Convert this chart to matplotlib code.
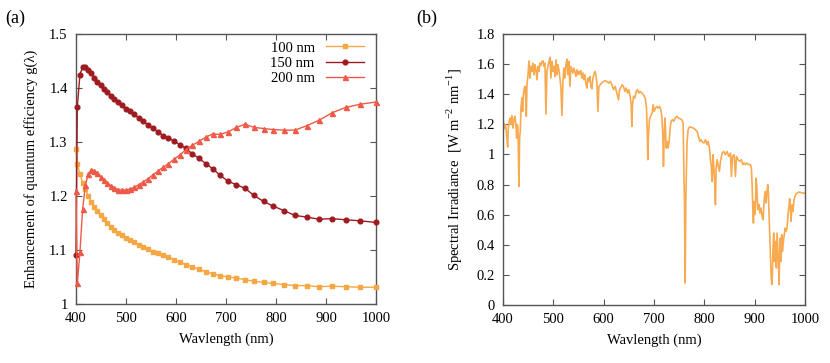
import matplotlib
matplotlib.use("Agg")
import matplotlib.pyplot as plt
from matplotlib.ticker import FuncFormatter, MultipleLocator

plt.rcParams['font.family'] = ['Liberation Serif', 'DejaVu Serif']
plt.rcParams['mathtext.fontset'] = 'custom'
plt.rcParams['mathtext.rm'] = 'Liberation Serif'

# ---------------- data: panel (a) ----------------
wavelength_sim = [400.0, 402.6, 407.9, 413.3, 418.9, 424.7, 430.6, 436.6, 442.9, 449.3,
                  455.9, 462.7, 469.7, 476.9, 484.4, 492.1, 500.0, 508.2, 516.7, 525.4,
                  534.5, 543.9, 553.6, 563.6, 574.1, 584.9, 596.2, 607.8, 620.0, 632.7,
                  645.8, 659.6, 673.9, 688.9, 704.5, 720.9, 738.1, 756.1, 775.0, 794.9,
                  815.8, 837.8, 861.1, 885.7, 911.8, 939.4, 968.8, 1000.0]

g_100nm = [1.287, 1.259, 1.241, 1.225, 1.213, 1.200, 1.189, 1.180, 1.172, 1.164,
           1.157, 1.150, 1.143, 1.137, 1.132, 1.127, 1.123, 1.119, 1.114, 1.109,
           1.105, 1.101, 1.097, 1.094, 1.090, 1.087, 1.082, 1.077, 1.073, 1.069,
           1.064, 1.060, 1.056, 1.052, 1.050, 1.048, 1.045, 1.042, 1.040, 1.038,
           1.036, 1.034, 1.034, 1.032, 1.033, 1.032, 1.031, 1.031]

g_150nm = [1.090, 1.365, 1.425, 1.439, 1.439, 1.434, 1.428, 1.419, 1.411, 1.405,
           1.399, 1.392, 1.386, 1.380, 1.374, 1.368, 1.362, 1.357, 1.351, 1.344,
           1.338, 1.332, 1.326, 1.319, 1.312, 1.307, 1.302, 1.295, 1.288, 1.278,
           1.270, 1.260, 1.250, 1.238, 1.227, 1.221, 1.214, 1.201, 1.190, 1.181,
           1.173, 1.164, 1.161, 1.157, 1.158, 1.156, 1.154, 1.151]

g_200nm = [1.210, 1.038, 1.096, 1.176, 1.221, 1.241, 1.249, 1.247, 1.242, 1.236,
           1.230, 1.224, 1.219, 1.215, 1.212, 1.211, 1.211, 1.213, 1.216, 1.221,
           1.226, 1.232, 1.239, 1.246, 1.253, 1.260, 1.268, 1.276, 1.286, 1.294,
           1.301, 1.309, 1.315, 1.314, 1.319, 1.327, 1.333, 1.327, 1.325, 1.323,
           1.322, 1.322, 1.330, 1.340, 1.354, 1.364, 1.370, 1.374]

series_labels = ["100 nm", "150 nm", "200 nm"]

# ---------------- data: panel (b) ----------------
spec_wl = [400.0, 401.3, 402.6, 405.2, 407.2, 409.2, 410.5, 412.5, 413.8, 415.8,
           417.8, 419.8, 421.8, 423.8, 425.7, 427.1, 428.4, 429.7, 431.7, 433.0,
           434.3, 435.7, 437.7, 439.0, 440.3, 442.3, 444.3, 446.3, 447.6, 449.6,
           451.6, 453.5, 455.5, 457.5, 459.5, 461.5, 463.5, 465.5, 467.5, 469.4,
           471.4, 473.4, 475.4, 477.4, 479.4, 481.3, 483.3, 485.3, 487.3, 489.3,
           491.3, 493.3, 495.2, 497.2, 499.2, 501.2, 503.2, 505.2, 507.2, 509.1,
           511.1, 513.1, 515.1, 517.1, 519.1, 521.0, 523.0, 525.0, 527.0, 529.0,
           531.0, 533.0, 534.9, 536.9, 538.9, 540.9, 542.9, 544.9, 546.8, 548.8,
           550.8, 552.8, 554.8, 556.8, 558.8, 560.7, 562.7, 564.7, 566.7, 568.7,
           570.7, 572.7, 574.6, 576.6, 578.6, 580.6, 582.6, 584.6, 586.6, 588.5,
           590.5, 593.1, 595.8, 599.7, 603.0, 606.3, 609.6, 613.0, 616.3, 619.6,
           622.9, 626.2, 629.5, 631.5, 634.1, 636.8, 639.4, 642.1, 644.7, 647.4,
           650.0, 652.7, 654.6, 656.0, 657.3, 659.3, 661.9, 664.6, 667.2, 669.9,
           672.5, 675.8, 679.1, 682.4, 685.1, 686.4, 687.7, 689.0, 691.0, 693.7,
           696.3, 698.3, 700.3, 702.9, 705.6, 708.2, 710.9, 713.5, 715.5, 717.5,
           718.8, 720.1, 721.5, 722.8, 724.1, 726.1, 728.1, 730.1, 732.1, 734.0,
           736.7, 739.3, 742.0, 745.3, 748.6, 751.9, 755.2, 757.9, 759.2, 760.5,
           761.2, 761.8, 762.5, 763.2, 764.5, 765.8, 767.8, 770.4, 774.4, 778.4,
           782.3, 785.7, 788.3, 791.0, 793.6, 796.2, 799.5, 802.2, 805.5, 807.5,
           810.2, 812.1, 813.5, 815.5, 817.4, 819.4, 820.7, 822.1, 823.4, 825.4,
           827.4, 830.0, 832.0, 835.3, 838.6, 841.9, 845.2, 848.5, 851.9, 853.8,
           855.8, 859.1, 861.8, 863.8, 867.1, 869.7, 873.7, 876.3, 879.0, 881.6,
           884.9, 888.2, 891.5, 893.5, 894.9, 896.2, 897.5, 898.8, 900.1, 901.5,
           902.8, 904.1, 905.4, 906.8, 908.8, 910.7, 912.7, 914.7, 916.7, 918.7,
           920.7, 922.6, 924.6, 926.0, 927.3, 928.6, 929.9, 931.2, 932.6, 933.9,
           935.2, 936.5, 937.9, 939.2, 940.5, 941.8, 943.2, 944.5, 945.8, 947.1,
           948.5, 949.8, 951.1, 952.4, 953.7, 955.1, 956.4, 958.4, 960.4, 962.3,
           964.3, 966.3, 968.3, 969.6, 970.9, 972.3, 974.3, 976.2, 978.2, 980.2,
           982.2, 984.8, 987.5, 990.8, 994.1, 997.4, 1000.0]

spec_irr = [1.131, 1.208, 1.175, 1.197, 1.131, 1.049, 1.175, 1.220, 1.242, 1.197,
            1.259, 1.175, 1.231, 1.253, 1.197, 1.109, 1.197, 1.175, 0.788, 1.109,
            1.153, 1.308, 1.375, 1.286, 1.386, 1.441, 1.452, 1.253, 1.463, 1.529,
            1.622, 1.507, 1.585, 1.552, 1.607, 1.529, 1.596, 1.563, 1.496, 1.585,
            1.552, 1.607, 1.591, 1.618, 1.622, 1.585, 1.607, 1.268, 1.552, 1.585,
            1.618, 1.645, 1.507, 1.618, 1.552, 1.585, 1.518, 1.629, 1.529, 1.596,
            1.563, 1.507, 1.441, 1.259, 1.485, 1.574, 1.507, 1.596, 1.633, 1.529,
            1.618, 1.452, 1.585, 1.563, 1.541, 1.574, 1.547, 1.518, 1.563, 1.529,
            1.552, 1.534, 1.556, 1.507, 1.541, 1.496, 1.529, 1.474, 1.441, 1.507,
            1.485, 1.518, 1.452, 1.436, 1.507, 1.529, 1.552, 1.529, 1.474, 1.286,
            1.452, 1.463, 1.474, 1.485, 1.490, 1.485, 1.474, 1.485, 1.463, 1.430,
            1.452, 1.408, 1.363, 1.430, 1.445, 1.463, 1.452, 1.419, 1.441, 1.408,
            1.430, 1.386, 1.330, 1.186, 1.330, 1.386, 1.375, 1.419, 1.430, 1.408,
            1.419, 1.408, 1.397, 1.375, 1.308, 1.175, 0.965, 1.131, 1.231, 1.259,
            1.275, 1.330, 1.286, 1.308, 1.319, 1.308, 1.319, 1.297, 1.253, 1.131,
            0.921, 1.109, 1.242, 1.175, 1.042, 1.087, 1.042, 1.087, 1.175, 1.220,
            1.231, 1.220, 1.242, 1.253, 1.242, 1.237, 1.231, 1.208, 0.910, 0.688,
            0.401, 0.146, 0.378, 0.688, 0.910, 1.087, 1.164, 1.182, 1.180, 1.175,
            1.164, 1.153, 1.120, 1.087, 1.098, 1.082, 1.076, 1.098, 1.065, 1.087,
            1.042, 0.965, 0.932, 0.821, 0.998, 0.888, 0.799, 0.666, 0.910, 0.965,
            0.932, 0.888, 0.954, 1.009, 1.020, 0.998, 1.020, 0.987, 1.009, 0.854,
            0.987, 0.998, 0.854, 0.987, 0.965, 0.954, 0.965, 0.932, 0.943, 0.932,
            0.943, 0.932, 0.932, 0.910, 0.799, 0.655, 0.544, 0.688, 0.600, 0.644,
            0.843, 0.799, 0.688, 0.633, 0.666, 0.611, 0.644, 0.589, 0.567, 0.688,
            0.755, 0.677, 0.755, 0.799, 0.733, 0.600, 0.478, 0.334, 0.201, 0.135,
            0.201, 0.378, 0.478, 0.290, 0.423, 0.312, 0.246, 0.478, 0.378, 0.290,
            0.135, 0.334, 0.445, 0.290, 0.467, 0.356, 0.401, 0.456, 0.511, 0.489,
            0.511, 0.600, 0.666, 0.706, 0.644, 0.556, 0.666, 0.622, 0.699, 0.722,
            0.737, 0.744, 0.750, 0.748, 0.744, 0.744, 0.740]

# ---------------- styling ----------------
c100 = '#F5A743'
c150 = '#9E1B20'
c200 = '#EE5A48'
c_spec = '#F8AA50'
spine_c = '#555555'

fig = plt.figure(figsize=(8.30, 3.63), dpi=100)
axa = fig.add_axes([76/830, 1-304/363, 300/830, 270/363])
axb = fig.add_axes([503/830, 1-305/363, 302/830, 271/363])

fmt = FuncFormatter(lambda v, p: '%g' % round(v, 3))

def style(ax):
    for s in ax.spines.values():
        s.set_color(spine_c)
        s.set_linewidth(1.0)
    ax.tick_params(direction='in', top=True, right=True, length=4, width=0.8,
                   color=spine_c, labelsize=10.5, pad=6)
    ax.set_xlim(400, 1000)
    ax.xaxis.set_major_locator(MultipleLocator(100))
    ax.yaxis.set_major_formatter(fmt)
    ax.set_xlabel('Wavlength (nm)', fontsize=10.5, labelpad=5)

# panel (a)
axa.plot(wavelength_sim, g_100nm, '-s', color=c100, lw=1.0, ms=3.2,
         label=series_labels[0], clip_on=False, zorder=3)
axa.plot(wavelength_sim, g_150nm, '-o', color=c150, lw=1.0, ms=3.4,
         label=series_labels[1], clip_on=False, zorder=3)
axa.plot(wavelength_sim, g_200nm, '-^', color=c200, lw=1.0, ms=3.6,
         label=series_labels[2], clip_on=False, zorder=3)
axa.set_ylim(1.0, 1.5)
axa.yaxis.set_major_locator(MultipleLocator(0.1))
style(axa)
axa.set_ylabel('Enhancement of quantum efficiency g(λ)', fontsize=10.5, labelpad=8)
axa.legend(loc='upper right', frameon=False, markerfirst=False, fontsize=10.5,
           handlelength=2.6, handletextpad=0.8, labelspacing=0.15,
           borderaxespad=0.1, bbox_to_anchor=(0.985, 1.0))

# panel (b)
axb.plot(spec_wl, spec_irr, '-', color=c_spec, lw=1.2)
axb.set_ylim(0, 1.8)
axb.yaxis.set_major_locator(MultipleLocator(0.2))
style(axb)
axb.set_ylabel(r'Spectral Irradiance  [W m$^{-2}$ nm$^{-1}$]', fontsize=10.5, labelpad=8)

fig.text(5/830, 1-18/363, '(a)', fontsize=13, va='center', ha='left')
fig.text(416/830, 1-18/363, '(b)', fontsize=13, va='center', ha='left')

fig.savefig('out.png', dpi=100)
